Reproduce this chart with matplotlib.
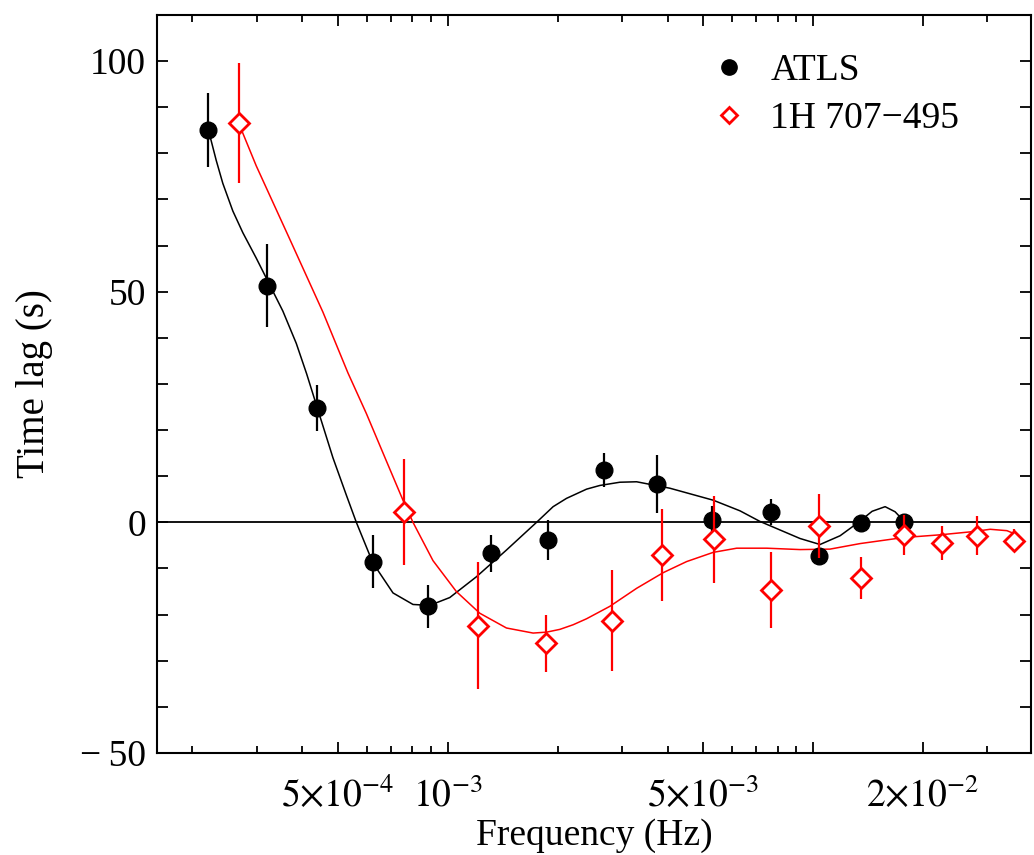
import matplotlib
matplotlib.use("Agg")
import matplotlib.pyplot as plt
from matplotlib.lines import Line2D
from matplotlib.ticker import FixedLocator, NullFormatter

plt.rcParams["font.family"] = ["Liberation Serif", "DejaVu Serif"]
plt.rcParams["mathtext.fontset"] = "stix"

# ATLS time lags
atls_freq = [2.21e-4, 3.21e-4, 4.38e-4, 6.26e-4, 8.81e-4, 1.31e-3, 1.88e-3,
             2.67e-3, 3.74e-3, 5.28e-3, 7.67e-3, 1.04e-2, 1.35e-2, 1.77e-2]
atls_lag = [85.0, 51.3, 24.7, -8.5, -18.2, -6.7, -3.8,
            11.3, 8.4, 0.5, 2.3, -7.2, -0.2, 0.1]
atls_err = [8.0, 9.0, 5.0, 5.8, 4.7, 4.0, 4.4,
            3.7, 6.3, 3.0, 2.8, 1.5, 1.5, 1.5]

# 1H 707-495 time lags
src_freq = [2.68e-4, 7.59e-4, 1.21e-3, 1.86e-3, 2.81e-3, 3.86e-3, 5.37e-3,
            7.67e-3, 1.04e-2, 1.35e-2, 1.77e-2, 2.25e-2, 2.81e-2, 3.54e-2]
src_lag = [86.5, 2.2, -22.4, -26.2, -21.3, -7.0, -3.7,
           -14.7, -0.8, -12.1, -2.8, -4.4, -2.9, -4.0]
src_err = [13.0, 11.5, 13.8, 6.2, 11.0, 10.0, 9.5,
           8.3, 7.0, 4.5, 4.3, 3.7, 4.2, 2.5]

# Model curve for ATLS
atls_model_freq = [2.214e-4, 2.324e-4, 2.423e-4, 2.581e-4, 2.749e-4, 2.991e-4,
                   3.218e-4, 3.538e-4, 3.850e-4, 4.110e-4, 4.368e-4, 4.851e-4,
                   5.279e-4, 5.622e-4, 6.241e-4, 7.083e-4, 8.035e-4, 8.927e-4,
                   1.013e-3, 1.198e-3, 1.448e-3, 1.750e-3, 1.943e-3, 2.114e-3,
                   2.399e-3, 2.609e-3, 2.959e-3, 3.289e-3, 4.057e-3, 5.332e-3,
                   6.310e-3, 7.157e-3, 9.213e-3, 1.045e-2, 1.186e-2, 1.331e-2,
                   1.451e-2, 1.575e-2, 1.677e-2, 1.787e-2]
atls_model_lag = [85.0, 78.5, 73.5, 67.5, 62.8, 57.3,
                  52.3, 45.8, 38.8, 32.2, 25.5, 14.0,
                  5.9, 0.0, -8.8, -15.3, -17.8, -18.0,
                  -16.3, -11.8, -6.0, 0.0, 3.4, 5.2,
                  7.2, 8.0, 8.7, 8.8, 7.4, 4.8,
                  2.5, 0.2, -3.5, -4.8, -2.9, 0.0,
                  2.4, 3.4, 2.3, 0.0]

# Model curve for 1H 707-495
src_model_freq = [2.680e-4, 2.991e-4, 3.690e-4, 4.553e-4, 5.332e-4, 5.988e-4,
                  6.794e-4, 7.543e-4, 8.035e-4, 9.114e-4, 1.056e-3, 1.224e-3,
                  1.448e-3, 1.713e-3, 1.864e-3, 2.027e-3, 2.204e-3, 2.399e-3,
                  2.779e-3, 3.289e-3, 3.890e-3, 4.508e-3, 5.332e-3, 6.180e-3,
                  7.467e-3, 9.213e-3, 1.113e-2, 1.345e-2, 1.765e-2, 2.228e-2,
                  2.744e-2, 3.054e-2, 3.394e-2, 3.644e-2]
src_model_lag = [86.5, 77.3, 61.5, 45.6, 32.4, 23.6,
                 13.3, 4.8, 0.0, -8.3, -15.0, -19.7,
                 -22.9, -24.0, -23.8, -23.2, -22.2, -20.9,
                 -18.2, -14.3, -10.9, -8.5, -6.5, -5.6,
                 -5.6, -5.9, -5.8, -4.6, -3.3, -2.7,
                 -2.0, -1.5, -1.8, -2.8]

x_tick_values = [5e-4, 1e-3, 5e-3, 1e-2, 2e-2]
x_tick_labels = [r"$5{\times}10^{-4}$", r"$10^{-3}$", r"$5{\times}10^{-3}$", "",
                 r"$2{\times}10^{-2}$"]
x_minor_values = [2e-4, 3e-4, 4e-4, 6e-4, 7e-4, 8e-4, 9e-4,
                  2e-3, 3e-3, 4e-3, 6e-3, 7e-3, 8e-3, 9e-3, 3e-2]
y_tick_values = [-50, 0, 50, 100]
y_tick_labels = ["\u2212\u200950", "0", "50", "100"]

RED = "#ff0000"

fig = plt.figure(figsize=(10.34, 8.55), dpi=100)
ax = fig.add_axes([0.1518, 0.1193, 0.8453, 0.8632])

ax.axhline(0, color="black", lw=1.3, zorder=1)

ax.plot(atls_model_freq, atls_model_lag, color="black", lw=1.1, zorder=2)
ax.plot(src_model_freq, src_model_lag, color=RED, lw=1.1, zorder=2)

ax.errorbar(atls_freq, atls_lag, yerr=atls_err, fmt="o", color="black",
            ms=12, elinewidth=1.6, capsize=0, zorder=3)
ax.errorbar(src_freq, src_lag, yerr=src_err, fmt="D", color=RED,
            mfc="white", mec=RED, mew=2.0, ms=10, elinewidth=1.6,
            capsize=0, zorder=4)

ax.set_xscale("log")
ax.set_xlim(1.6e-4, 3.95e-2)
ax.set_ylim(-50, 110)

ax.xaxis.set_major_locator(FixedLocator(x_tick_values))
ax.set_xticklabels(x_tick_labels)
ax.xaxis.set_minor_locator(FixedLocator(x_minor_values))
ax.xaxis.set_minor_formatter(NullFormatter())
ax.yaxis.set_major_locator(FixedLocator(y_tick_values))
ax.set_yticklabels(y_tick_labels)
ax.yaxis.set_minor_locator(FixedLocator(list(range(-40, 110, 10))))

ax.tick_params(axis="both", which="both", direction="in", top=True, right=True,
               width=1.3, labelsize=27)
ax.tick_params(axis="x", which="major", length=8, pad=18)
ax.tick_params(axis="x", which="minor", length=5)
ax.tick_params(axis="y", which="both", length=8, pad=8)

for sp in ax.spines.values():
    sp.set_linewidth(1.5)

ax.set_xlabel("Frequency (Hz)", fontsize=27, labelpad=2)
ax.set_ylabel("Time lag (s)", fontsize=28, labelpad=19)

handles = [
    Line2D([], [], ls="none", marker="o", color="black", ms=11),
    Line2D([], [], ls="none", marker="D", color=RED, mfc="white", mec=RED,
           mew=2.0, ms=8),
]
ax.legend(handles, ["ATLS", "1H 707\u2212495"], loc="upper left",
          bbox_to_anchor=(0.633, 0.948), frameon=False, fontsize=27,
          handlelength=1.0, handletextpad=0.6, borderpad=0,
          borderaxespad=0, labelspacing=0.36)

fig.savefig("out.png", dpi=100)
